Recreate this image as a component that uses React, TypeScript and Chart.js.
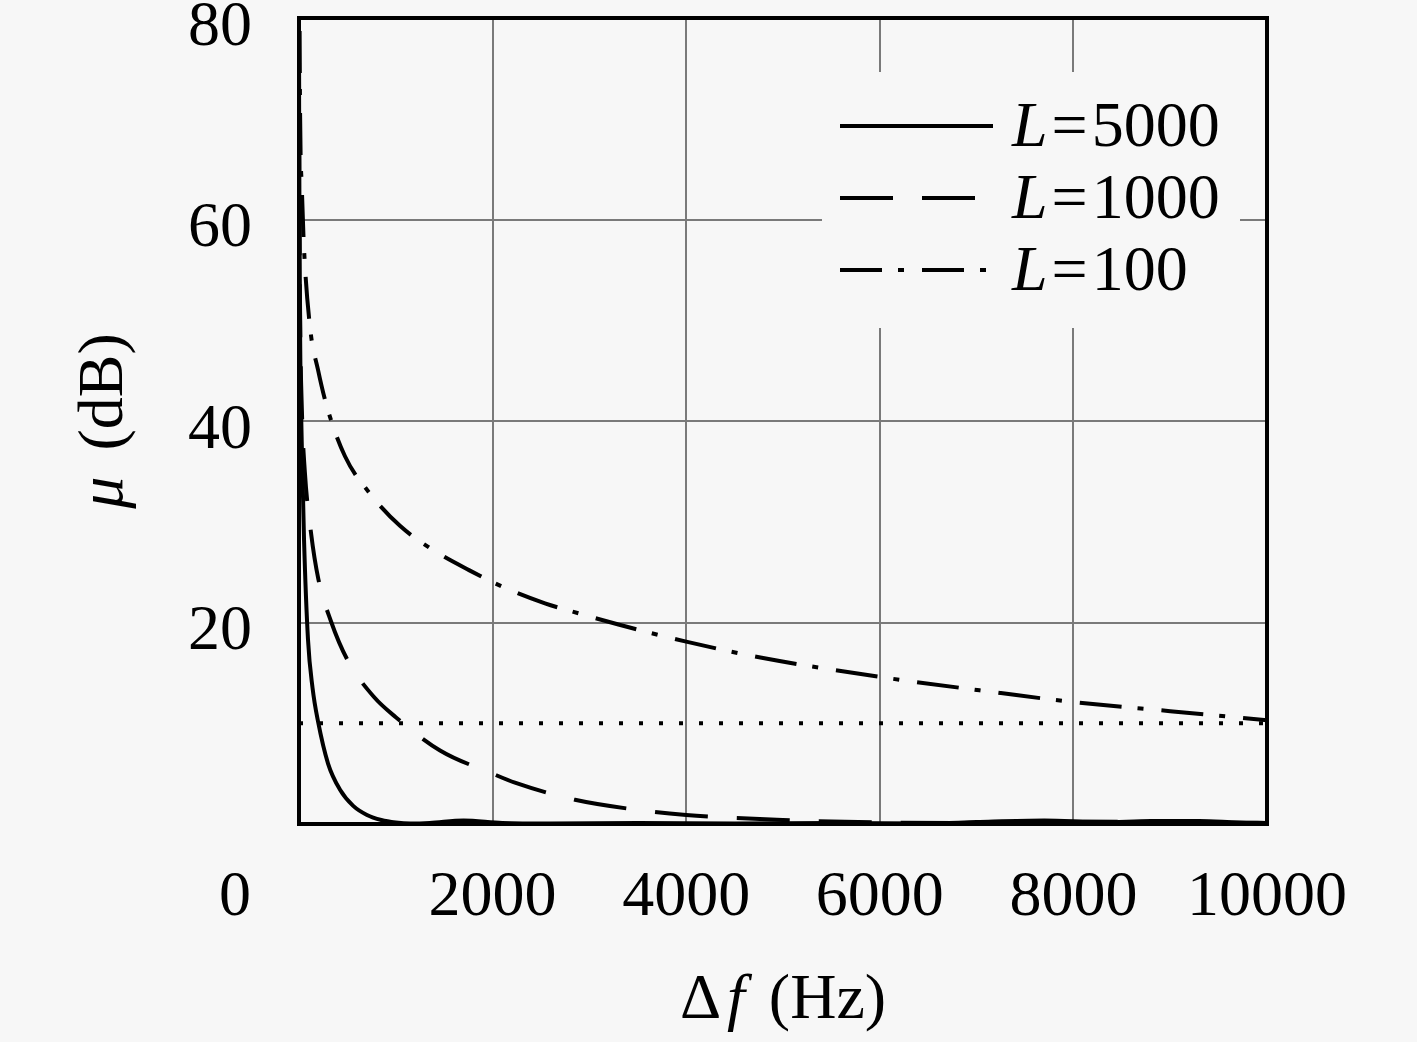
import { useEffect, useRef } from "react"
import { Chart, registerables } from "chart.js"

Chart.register(...registerables)

const FONT = '"Liberation Serif", "Times New Roman", serif'
const BG = "#f7f7f7"

const xTicks = [0, 2000, 4000, 6000, 8000, 10000]
const yTicks = [0, 20, 40, 60, 80]

const seriesLabels = ["L=5000", "L=1000", "L=100"]

// L = 5000 (solid)
const l5000Freq = [0, 5, 12, 28, 52, 93, 140, 196, 300, 424, 560, 702, 850, 1000, 1150, 1350, 1700, 2100, 2600, 3500, 4500, 5500, 6500, 7000, 7700, 8300, 8800, 9300, 9700, 10000]
const l5000Mu = [75, 60, 48, 38, 28.2, 18.3, 13.5, 10.2, 6.0, 3.4, 1.8, 0.9, 0.4, 0.15, 0.05, 0.1, 0.35, 0.1, 0.05, 0.1, 0.05, 0.1, 0.05, 0.2, 0.35, 0.15, 0.3, 0.3, 0.15, 0.1]

// L = 1000 (dashed)
const l1000Freq = [0, 4, 12, 30, 60, 124, 200, 331, 500, 775, 1000, 1457, 2000, 2231, 2851, 3500, 4000, 4500, 5000, 5500, 6000, 7000, 8000, 9000, 10000]
const l1000Mu = [78, 62, 50, 41, 35, 28.9, 24.3, 20.1, 16.3, 12.6, 10.6, 7.3, 5.0, 4.1, 2.4, 1.4, 0.9, 0.6, 0.4, 0.25, 0.15, 0.1, 0.25, 0.15, 0.1]

// L = 100 (dash-dot)
const l100Freq = [0, 10, 30, 50, 114, 196, 289, 475, 733, 1043, 1384, 1756, 2138, 2541, 2820, 3300, 4000, 4780, 6000, 7250, 8000, 9000, 10000]
const l100Mu = [95, 72, 63, 57.5, 49.3, 45.1, 41.4, 36.5, 32.8, 29.6, 27.2, 25.2, 23.4, 21.9, 21.1, 19.8, 18.1, 16.5, 14.6, 13.0, 12.1, 11.2, 10.3]

// threshold (dotted)
const thresholdFreq = [0, 10000]
const thresholdMu = [10, 10]

type Part = { text: string; italic?: boolean; gap?: number }

function pts(xs: number[], ys: number[]) {
  return xs.map((x, i) => ({ x, y: ys[i] }))
}

function font(italic?: boolean) {
  return `${italic ? "italic " : ""}64px ${FONT}`
}

function partsWidth(ctx: CanvasRenderingContext2D, parts: Part[]) {
  let w = 0
  for (const p of parts) {
    ctx.font = font(p.italic)
    w += ctx.measureText(p.text).width + (p.gap || 0)
  }
  return w
}

function drawParts(ctx: CanvasRenderingContext2D, parts: Part[], x: number, y: number) {
  let cx = x
  for (const p of parts) {
    ctx.font = font(p.italic)
    ctx.fillText(p.text, cx, y)
    cx += ctx.measureText(p.text).width + (p.gap || 0)
  }
}

function labelParts(label: string): Part[] {
  const m = label.match(/^([A-Za-z])=(.*)$/)
  if (!m) return [{ text: label }]
  return [
    { text: m[1], italic: true, gap: 4 },
    { text: "=", gap: 4 },
    { text: m[2] },
  ]
}

const boxLegend = {
  id: "boxLegend",
  afterDatasetsDraw(chart: Chart) {
    const { ctx, chartArea } = chart
    const { right, top } = chartArea
    ctx.save()
    ctx.fillStyle = BG
    ctx.fillRect(right - 445, top + 54, 418, 256)
    ctx.fillStyle = "#000"
    ctx.strokeStyle = "#000"
    ctx.textBaseline = "alphabetic"
    ctx.textAlign = "left"
    let row = 0
    chart.data.datasets.forEach((ds: any) => {
      if (!ds.label) return
      const y = top + 108 + row * 72
      ctx.lineWidth = ds.borderWidth || 3
      ctx.setLineDash(ds.borderDash || [])
      ctx.beginPath()
      ctx.moveTo(right - 427, y)
      ctx.lineTo(right - 274, y)
      ctx.stroke()
      ctx.setLineDash([])
      drawParts(ctx, labelParts(ds.label), right - 255, y + 20)
      row++
    })
    // frame
    ctx.lineWidth = 4
    ctx.strokeRect(chartArea.left, top, right - chartArea.left, chartArea.bottom - top)
    ctx.restore()
  },
}

const axisTitles = {
  id: "axisTitles",
  afterDraw(chart: Chart) {
    const { ctx, chartArea } = chart
    ctx.save()
    ctx.fillStyle = "#000"
    ctx.textBaseline = "alphabetic"
    ctx.textAlign = "left"
    const xParts: Part[] = [
      { text: "Δ", gap: 6 },
      { text: "f", italic: true, gap: 24 },
      { text: "(Hz)" },
    ]
    const cx = (chartArea.left + chartArea.right) / 2
    const wx = partsWidth(ctx, xParts)
    drawParts(ctx, xParts, cx - wx / 2, chartArea.bottom + 194)

    const yParts: Part[] = [
      { text: "μ", italic: true, gap: 26 },
      { text: "(dB)" },
    ]
    const cy = (chartArea.top + chartArea.bottom) / 2
    const wy = partsWidth(ctx, yParts)
    ctx.translate(chartArea.left - 177, cy)
    ctx.rotate(-Math.PI / 2)
    drawParts(ctx, yParts, -wy / 2, 0)
    ctx.restore()
  },
}

export default function App() {
  const chartRef = useRef<HTMLCanvasElement>(null)
  const chartInstance = useRef<Chart | null>(null)

  useEffect(() => {
    if (!chartRef.current) return
    const ctx = chartRef.current.getContext("2d")
    if (!ctx) return
    if (chartInstance.current) chartInstance.current.destroy()

    const tickFont = { family: FONT, size: 64 }

    chartInstance.current = new Chart(ctx, {
      type: "line",
      data: {
        datasets: [
          {
            label: seriesLabels[0],
            data: pts(l5000Freq, l5000Mu),
            borderColor: "#000",
            borderWidth: 4,
            borderDash: [],
          },
          {
            label: seriesLabels[1],
            data: pts(l1000Freq, l1000Mu),
            borderColor: "#000",
            borderWidth: 4,
            borderDash: [53, 29],
          },
          {
            label: seriesLabels[2],
            data: pts(l100Freq, l100Mu),
            borderColor: "#000",
            borderWidth: 4,
            borderDash: [42, 16, 6, 18],
          },
          {
            data: pts(thresholdFreq, thresholdMu),
            borderColor: "#000",
            borderWidth: 4,
            borderDash: [4, 16],
          },
        ],
      },
      options: {
        animation: false,
        responsive: true,
        maintainAspectRatio: false,
        layout: { padding: { top: 18, right: 150, left: 0, bottom: 0 } },
        elements: {
          point: { radius: 0 },
          line: { cubicInterpolationMode: "monotone", borderCapStyle: "butt" },
        },
        plugins: {
          legend: { display: false },
          tooltip: { enabled: false },
        },
        scales: {
          x: {
            type: "linear",
            min: 0,
            max: 10000,
            afterBuildTicks: (s: any) => {
              s.ticks = xTicks.map((v) => ({ value: v }))
            },
            afterFit: (s: any) => {
              s.height = 218
              s.paddingLeft = 0
              s.paddingRight = 0
            },
            border: { display: false },
            grid: { color: "#7a7a7a", lineWidth: 2, drawTicks: false },
            ticks: {
              autoSkip: false,
              maxRotation: 0,
              padding: 36,
              color: "#000",
              font: tickFont,
              callback: (v: any) => (v === 0 ? "0        " : String(v)),
            },
          },
          y: {
            type: "linear",
            min: 0,
            max: 80,
            afterBuildTicks: (s: any) => {
              s.ticks = yTicks.map((v) => ({ value: v }))
            },
            afterFit: (s: any) => {
              s.width = 299
              s.paddingTop = 0
              s.paddingBottom = 0
            },
            border: { display: false },
            grid: { color: "#7a7a7a", lineWidth: 2, drawTicks: false },
            ticks: {
              padding: 47,
              labelOffset: 10,
              color: "#000",
              font: tickFont,
              callback: (v: any) => (v === 0 ? "" : String(v)),
            },
          },
        },
      },
      plugins: [boxLegend, axisTitles],
    })

    return () => {
      if (chartInstance.current) {
        chartInstance.current.destroy()
        chartInstance.current = null
      }
    }
  }, [])

  return (
    <div style={{ position: "fixed", left: 0, top: 0, width: "1417px", height: "1042px", background: BG }}>
      <canvas ref={chartRef}></canvas>
    </div>
  )
}
